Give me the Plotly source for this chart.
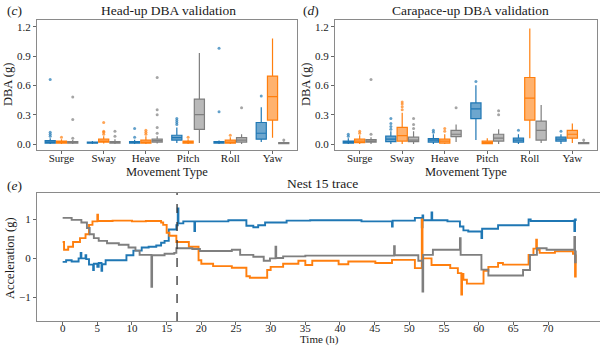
import plotly.graph_objects as go

# ---------------------------------------------------------------- data
movements = ["Surge", "Sway", "Heave", "Pitch", "Roll", "Yaw"]
dba_ticks = [0.0, 0.3, 0.6, 0.9, 1.2]

# box statistics per movement: (lower fence, q1, median, q3, upper fence)
head_x = [(0.0, 0.01, 0.02, 0.035, 0.06), (0.0, 0.008, 0.015, 0.02, 0.03),
          (0.0, 0.01, 0.015, 0.025, 0.045), (0.01, 0.04, 0.065, 0.09, 0.17),
          (0.0, 0.01, 0.018, 0.025, 0.035), (0.02, 0.05, 0.11, 0.22, 0.375)]
head_y = [(0.0, 0.01, 0.02, 0.03, 0.05), (0.005, 0.02, 0.03, 0.05, 0.08),
          (0.0, 0.01, 0.02, 0.04, 0.08), (0.0, 0.01, 0.02, 0.03, 0.05),
          (0.0, 0.01, 0.02, 0.04, 0.07), (0.065, 0.245, 0.485, 0.695, 1.08)]
head_z = [(0.0, 0.01, 0.015, 0.025, 0.04), (0.0, 0.01, 0.015, 0.025, 0.05),
          (0.005, 0.02, 0.035, 0.05, 0.08), (0.01, 0.15, 0.30, 0.46, 0.93),
          (0.0, 0.02, 0.04, 0.065, 0.10), (0.0, 0.005, 0.01, 0.015, 0.025)]
head_x_out = [[0.08, 0.10, 0.12, 0.66], [], [0.07, 0.16],
              [0.20, 0.22, 0.24, 0.26], [0.33, 0.98], [0.49]]
head_y_out = [[0.07], [0.10, 0.12, 0.13, 0.22], [0.10, 0.12, 0.14],
              [0.07], [0.09], []]
head_z_out = [[0.06, 0.25, 0.48], [0.08, 0.13], [0.11, 0.17, 0.30, 0.35, 0.68],
              [], [0.37], [0.04]]

cara_x = [(0.0, 0.01, 0.02, 0.03, 0.06), (0.0, 0.025, 0.05, 0.08, 0.13),
          (0.0, 0.02, 0.04, 0.055, 0.10), (0.04, 0.26, 0.36, 0.42, 0.60),
          (0.0, 0.02, 0.04, 0.06, 0.10), (0.0, 0.03, 0.05, 0.07, 0.10)]
cara_y = [(0.0, 0.015, 0.03, 0.05, 0.09), (0.0, 0.03, 0.085, 0.17, 0.32),
          (0.0, 0.01, 0.03, 0.05, 0.10), (0.0, 0.005, 0.015, 0.03, 0.06),
          (0.06, 0.245, 0.47, 0.68, 1.18), (0.01, 0.06, 0.10, 0.14, 0.21)]
cara_z = [(0.0, 0.02, 0.03, 0.045, 0.07), (0.0, 0.025, 0.04, 0.07, 0.13),
          (0.02, 0.075, 0.10, 0.14, 0.20), (0.0, 0.03, 0.06, 0.10, 0.15),
          (0.01, 0.04, 0.14, 0.235, 0.40), (0.0, 0.005, 0.01, 0.015, 0.025)]
cara_x_out = [[0.08, 0.10], [0.15, 0.18, 0.21, 0.26], [0.12, 0.14],
              [0.64], [0.14], [0.13]]
cara_y_out = [[0.11, 0.13], [0.35, 0.38, 0.41, 0.43], [0.13, 0.16], [], [], []]
cara_z_out = [[0.10, 0.66], [0.16, 0.20, 0.26], [0.37], [0.30, 0.34], [], [0.04]]

# Nest 15 acceleration trace (step breakpoints, hours / g)
trace_x_h = [0.0, 0.5, 1.3, 2.3, 2.6, 2.7, 3.3, 3.4, 3.8, 4.4, 4.5, 5.0, 5.2, 5.6,
             5.7, 6.2, 9.2, 10.2, 11.4, 12.4, 13.5, 14.2, 14.7, 15.3, 16.4, 16.6,
             16.7, 17.4, 19.0, 19.1, 23.9, 26.5, 27.5, 28.2, 29.2, 32.3, 35.7,
             43.1, 47.5, 47.6, 50.8, 51.8, 51.9, 52.0, 53.2, 53.3, 55.5, 57.3,
             57.8, 58.5, 60.4, 60.5, 62.8, 67.2, 67.5, 73.7, 73.8, 73.9, 74.0]
trace_x_g = [-0.09, -0.05, -0.08, 0.00, 0.14, 0.00, 0.08, -0.02, -0.16, -0.30,
             -0.14, -0.22, -0.12, -0.32, -0.15, -0.05, 0.08, 0.20, 0.28, 0.30,
             0.33, 0.40, 0.45, 0.74, 0.85, 1.28, 0.90, 0.95, 0.70, 0.95, 0.98,
             0.84, 0.80, 0.85, 0.92, 0.97, 0.98, 0.95, 0.82, 0.97, 1.04, 0.80,
             1.10, 0.98, 1.18, 0.98, 0.95, 0.82, 0.72, 0.69, 0.52, 0.76, 0.85,
             1.00, 0.96, 0.97, 0.70, 1.00, 0.96]

trace_y_h = [0.0, 0.2, 0.8, 1.5, 2.5, 3.3, 3.8, 4.3, 5.0, 5.1, 7.2, 10.0, 12.0,
             14.2, 14.5, 15.0, 15.4, 16.4, 18.2, 19.6, 20.0, 21.7, 24.4, 26.5,
             27.0, 29.5, 30.0, 31.8, 34.0, 35.0, 36.0, 39.8, 41.2, 45.1, 47.5,
             50.8, 51.8, 51.9, 53.2, 54.4, 55.9, 57.0, 57.5, 57.6, 57.8, 58.3,
             60.7, 61.4, 62.8, 63.5, 67.2, 67.9, 68.3, 68.4, 68.8, 71.0, 73.6,
             73.9, 74.0]
trace_y_g = [0.42, 0.22, 0.30, 0.42, 0.52, 0.62, 0.86, 0.95, 1.12, 0.96, 0.97,
             0.95, 0.96, 0.92, 0.86, 0.66, 0.58, 0.42, 0.30, -0.05, -0.14,
             -0.20, -0.24, -0.46, -0.50, -0.30, -0.22, -0.14, -0.06, -0.17,
             -0.06, -0.15, -0.08, -0.12, -0.04, -0.25, 1.00, 0.00, -0.17,
             -0.17, -0.25, -0.38, -0.93, -0.40, -0.55, -0.65, -0.32, -0.22,
             -0.12, -0.16, 0.09, 0.25, 0.48, 0.22, 0.14, 0.18, 0.12, -0.47, 0.10]

trace_z_h = [0.0, 1.3, 2.7, 3.5, 3.9, 4.5, 5.2, 6.4, 8.1, 9.5, 10.5, 11.1, 12.8,
             12.9, 14.7, 16.1, 16.4, 18.7, 19.8, 24.4, 25.6, 27.5, 29.0, 29.9,
             30.7, 30.8, 31.8, 35.0, 47.8, 47.9, 51.3, 51.9, 52.0, 53.4, 57.3,
             57.4, 60.4, 61.4, 66.4, 67.4, 68.4, 69.8, 73.6, 73.8, 73.9, 74.0]
trace_z_g = [1.04, 0.99, 0.92, 0.78, 0.62, 0.52, 0.45, 0.39, 0.35, 0.28, 0.20,
             0.09, -0.73, 0.08, 0.12, 0.14, 0.26, 0.24, 0.19, 0.22, 0.09, 0.04,
             -0.06, 0.00, 0.30, 0.01, 0.05, 0.07, 0.31, 0.08, -0.06, -0.85,
             0.09, 0.22, 0.52, 0.09, -0.29, -0.44, -0.30, 0.09, 0.26, 0.22,
             0.22, 0.55, -0.10, 0.20]
marker_hour = 16.5
time_ticks = [0, 5, 10, 15, 20, 25, 30, 35, 40, 45, 50, 55, 60, 65, 70]
acc_ticks = [-1, 0, 1]

# ---------------------------------------------------------------- styling
W, H = 600, 346
FONT = "Liberation Serif, Times New Roman, DejaVu Serif, serif"
colors = ["#1f77b4", "#ff7f0e", "#7f7f7f"]
fills = ["rgba(31,119,180,0.65)", "rgba(255,127,14,0.6)", "rgba(127,127,127,0.55)"]
offsets = [-0.267, 0.0, 0.267]


def dom_x(left, right):
    return [left / W, min(right / W, 1.0)]


def dom_y(top, bottom):
    return [1 - bottom / H, 1 - top / H]


fig = go.Figure()

panels = [
    ("x", "y", [head_x, head_y, head_z], [head_x_out, head_y_out, head_z_out]),
    ("x2", "y2", [cara_x, cara_y, cara_z], [cara_x_out, cara_y_out, cara_z_out]),
]
for xa, ya, stats_sets, out_sets in panels:
    for h, (stats, outs) in enumerate(zip(stats_sets, out_sets)):
        for i, s in enumerate(stats):
            pos = i + offsets[h]
            fig.add_trace(go.Box(
                x=[pos], lowerfence=[s[0]], q1=[s[1]], median=[s[2]],
                q3=[s[3]], upperfence=[s[4]], width=0.24, whiskerwidth=0,
                fillcolor=fills[h], line=dict(color=colors[h], width=1.2),
                boxpoints=False, xaxis=xa, yaxis=ya, showlegend=False,
                hoverinfo="skip"))
            if outs[i]:
                fig.add_trace(go.Scatter(
                    x=[pos] * len(outs[i]), y=outs[i], mode="markers",
                    marker=dict(size=3, color=colors[h], opacity=0.7),
                    xaxis=xa, yaxis=ya, showlegend=False, hoverinfo="skip"))

for hrs, acc, c in [(trace_x_h, trace_x_g, colors[0]),
                    (trace_y_h, trace_y_g, colors[1]),
                    (trace_z_h, trace_z_g, colors[2])]:
    fig.add_trace(go.Scatter(x=hrs, y=acc, mode="lines", line_shape="hv",
                             line=dict(color=c, width=1.9),
                             xaxis="x3", yaxis="y3", showlegend=False))

fig.add_shape(type="line", x0=marker_hour, x1=marker_hour, y0=0, y1=1,
              xref="x3", yref="y3 domain",
              line=dict(color="#333333", width=1.3, dash="dash"))

axis_common = dict(showline=True, linecolor="#8a8a8a", linewidth=1.3,
                   ticks="outside", ticklen=3, tickcolor="#666", showgrid=False,
                   zeroline=False,
                   tickfont=dict(family=FONT, size=11, color="#222"))

top_dom_y = dom_y(20, 150)
fig.update_layout(
    width=W, height=H, margin=dict(l=0, r=0, t=0, b=0),
    paper_bgcolor="white", plot_bgcolor="white",
    xaxis=dict(domain=dom_x(37, 297), range=[-0.58, 5.58], tickvals=list(range(6)),
               ticktext=movements, anchor="y", mirror=True,
               ticklabelstandoff=-5, **axis_common),
    yaxis=dict(domain=top_dom_y, range=[-0.061, 1.268], tickvals=dba_ticks,
               ticktext=[f"{v:.1f}" for v in dba_ticks], anchor="x",
               mirror=True, **axis_common),
    xaxis2=dict(domain=dom_x(335, 597), range=[-0.58, 5.58], tickvals=list(range(6)),
                ticktext=movements, anchor="y2", mirror=True,
                ticklabelstandoff=-5, **axis_common),
    yaxis2=dict(domain=top_dom_y, range=[-0.061, 1.268], tickvals=dba_ticks,
                ticktext=[f"{v:.1f}" for v in dba_ticks], anchor="x2",
                mirror=True, **axis_common),
    xaxis3=dict(domain=dom_x(37, 600), range=[-3.7, 77.5], tickvals=time_ticks,
                anchor="y3", mirror=True, ticklabelstandoff=-6, **axis_common),
    yaxis3=dict(domain=dom_y(193, 321), range=[-1.61, 1.68], tickvals=acc_ticks,
                ticktext=["\u22121", "0", "1"], anchor="x3", mirror=False,
                **axis_common),
)


def label(text, px, py, size=13, angle=0):
    fig.add_annotation(text=text, x=px / W, y=1 - py / H, xref="paper",
                       yref="paper", showarrow=False, xanchor="center",
                       yanchor="middle", textangle=angle,
                       font=dict(family=FONT, size=size, color="#1a1a1a"))


label("Head-up DBA validation", 168, 10, 13.5)
label("Carapace-up DBA validation", 470, 10, 13.5)
label("Nest 15 trace", 322, 184, 13.5)
label("(<i>c</i>)", 14, 11, 13.5)
label("(<i>d</i>)", 311, 11, 13.5)
label("(<i>e</i>)", 14, 185, 13.5)
label("Movement Type", 167, 172, 12.5)
label("Movement Type", 466, 172, 12.5)
label("DBA (g)", 8, 85, 12.5, -90)
label("DBA (g)", 306, 85, 12.5, -90)
label("Acceleration (g)", 10, 258, 12.5, -90)
label("Time (h)", 319, 339.5, 11)

fig.write_html("out.html")
